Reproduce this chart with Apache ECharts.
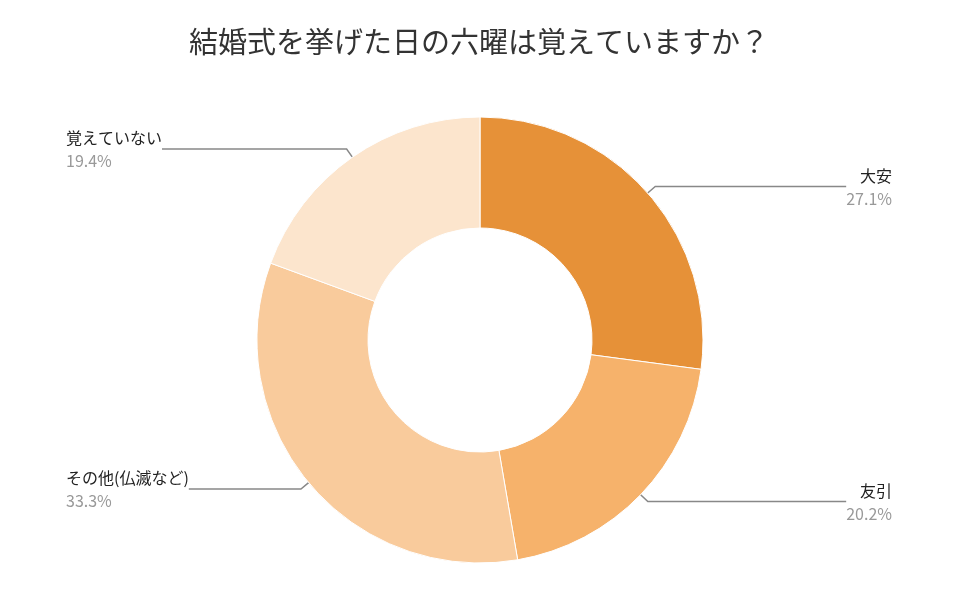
<!DOCTYPE html>
<html><head><meta charset="utf-8">
<script src="https://cdn.jsdelivr.net/npm/echarts@6/dist/echarts.min.js"></script>
<style>html,body{margin:0;padding:0;background:#fff}#c{width:958px;height:594px}</style>
</head><body><div id="c"></div>
<script>
const titleText = '結婚式を挙げた日の六曜は覚えていますか？';
const categories = ['大安', '友引', 'その他(仏滅など)', '覚えていない'];
const values = [27.1, 20.2, 33.3, 19.4];
const colors = ['#e69138', '#f6b26b', '#f9cb9c', '#fce5cd'];
const chart = echarts.init(document.getElementById('c'));
chart.setOption({
  backgroundColor: '#fff',
  title: { text: titleText, left: 'center', top: 22,
    textStyle: { fontFamily: 'Noto Sans CJK JP', fontSize: 29, fontWeight: 'normal', color: '#333' } },
  series: [{
    type: 'pie',
    center: [480, 340],
    radius: [112, 223],
    startAngle: 90,
    clockwise: true,
    data: categories.map((c, i) => ({ name: c, value: values[i], itemStyle: { color: colors[i] } })),
    itemStyle: { borderColor: '#fff', borderWidth: 1 },
    label: {
      alignTo: 'edge', edgeDistance: 66, distanceToLabelLine: 0,
      formatter: p => '{n|' + p.name + '}\n{v|' + p.value.toFixed(1) + '%}',
      rich: {
        n: { fontFamily: 'Noto Sans CJK JP', fontSize: 16, color: '#222', lineHeight: 24 },
        v: { fontFamily: 'Noto Sans CJK JP', fontSize: 16, color: '#999', lineHeight: 22 }
      }
    },
    labelLine: { show: true, length: 10, length2: 20, lineStyle: { color: '#888', width: 1.5 } }
  }]
});
</script></body></html>
